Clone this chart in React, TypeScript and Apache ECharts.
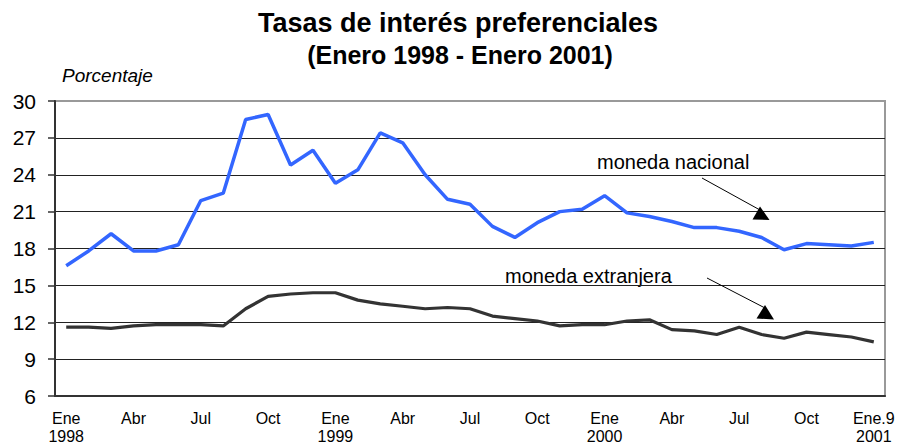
import React, { useEffect, useRef } from "react";
import * as echarts from "echarts";

const tickLabels: string[] = [
  "Ene\n1998", "Feb", "Mar", "Abr", "May", "Jun", "Jul", "Ago", "Sep", "Oct", "Nov", "Dic",
  "Ene\n1999", "Feb", "Mar", "Abr", "May", "Jun", "Jul", "Ago", "Sep", "Oct", "Nov", "Dic",
  "Ene\n2000", "Feb", "Mar", "Abr", "May", "Jun", "Jul", "Ago", "Sep", "Oct", "Nov", "Dic",
  "Ene.9\n2001",
];

const monedaNacional: number[] = [
  16.6, 17.8, 19.2, 17.8, 17.8, 18.3, 21.9, 22.5, 28.5, 28.9, 24.8, 26.0,
  23.3, 24.4, 27.4, 26.6, 24.0, 22.0, 21.6, 19.8, 18.9, 20.1, 21.0, 21.2,
  22.3, 20.9, 20.6, 20.2, 19.7, 19.7, 19.4, 18.9, 17.9, 18.4, 18.3, 18.2,
  18.5,
];

const monedaExtranjera: number[] = [
  11.6, 11.6, 11.5, 11.7, 11.8, 11.8, 11.8, 11.7, 13.1, 14.1, 14.3, 14.4,
  14.4, 13.8, 13.5, 13.3, 13.1, 13.2, 13.1, 12.5, 12.3, 12.1, 11.7, 11.8,
  11.8, 12.1, 12.2, 11.4, 11.3, 11.0, 11.6, 11.0, 10.7, 11.2, 11.0, 10.8,
  10.4,
];

const FONT = "'Liberation Sans', Arial, Helvetica, sans-serif";

export default function App() {
  const ref = useRef<HTMLDivElement>(null);
  useEffect(() => {
    if (!ref.current) return;
    const chart = echarts.init(ref.current, undefined, { renderer: "svg" });
    chart.setOption({
      animation: false,
      backgroundColor: "#ffffff",
      grid: {
        left: 55,
        right: 14,
        top: 101,
        bottom: 50,
        show: true,
        borderColor: "#999999",
        borderWidth: 2,
        containLabel: false,
        outerBoundsMode: "none",
      },
      xAxis: {
        type: "category",
        data: tickLabels,
        boundaryGap: true,
        axisLine: { show: true, lineStyle: { color: "#333333", width: 2 } },
        axisTick: { show: false },
        splitLine: { show: false },
        axisLabel: {
          interval: 2,
          margin: 13,
          color: "#000000",
          fontFamily: FONT,
          fontSize: 16,
          lineHeight: 18,
        },
      },
      yAxis: {
        type: "value",
        min: 6,
        max: 30,
        interval: 3,
        axisLine: { show: true, lineStyle: { color: "#333333", width: 2 } },
        axisTick: { show: true, length: 7, lineStyle: { color: "#333333", width: 1.5 } },
        axisLabel: {
          margin: 19,
          color: "#000000",
          fontFamily: FONT,
          fontSize: 21,
        },
        splitLine: {
          show: true,
          showMinLine: false,
          showMaxLine: false,
          lineStyle: { color: "#222222", width: 1 },
        },
      },
      series: [
        {
          name: "moneda nacional",
          type: "line",
          data: monedaNacional,
          symbol: "none",
          lineStyle: { color: "#3366ff", width: 3.5 },
          z: 3,
        },
        {
          name: "moneda extranjera",
          type: "line",
          data: monedaExtranjera,
          symbol: "none",
          lineStyle: { color: "#333333", width: 3.2 },
          z: 3,
        },
      ],
      graphic: [
        {
          type: "text",
          x: 458,
          y: 23,
          style: {
            text: "Tasas de interés preferenciales",
            font: `bold 27px ${FONT}`,
            fill: "#000000",
            align: "center",
            verticalAlign: "middle",
          },
        },
        {
          type: "text",
          x: 460,
          y: 55,
          style: {
            text: "(Enero 1998 - Enero 2001)",
            font: `bold 25px ${FONT}`,
            fill: "#000000",
            align: "center",
            verticalAlign: "middle",
          },
        },
        {
          type: "text",
          x: 62,
          y: 75,
          style: {
            text: "Porcentaje",
            font: `italic 19px ${FONT}`,
            fill: "#000000",
            align: "left",
            verticalAlign: "middle",
          },
        },
        {
          type: "text",
          x: 597,
          y: 162,
          style: {
            text: "moneda nacional",
            font: `20px ${FONT}`,
            fill: "#000000",
            align: "left",
            verticalAlign: "middle",
          },
        },
        {
          type: "text",
          x: 505,
          y: 276,
          style: {
            text: "moneda extranjera",
            font: `20px ${FONT}`,
            fill: "#000000",
            align: "left",
            verticalAlign: "middle",
          },
        },
        {
          type: "line",
          shape: { x1: 702, y1: 178, x2: 760, y2: 210 },
          style: { stroke: "#000000", lineWidth: 1 },
          z: 10,
        },
        {
          type: "polygon",
          shape: { points: [[760, 206.5], [752.5, 219.5], [769.5, 220]] },
          style: { fill: "#000000" },
          z: 10,
        },
        {
          type: "line",
          shape: { x1: 707, y1: 278, x2: 765, y2: 308 },
          style: { stroke: "#000000", lineWidth: 1 },
          z: 10,
        },
        {
          type: "polygon",
          shape: { points: [[765, 305], [756.5, 318.5], [774, 319.5]] },
          style: { fill: "#000000" },
          z: 10,
        },
      ],
    });
    return () => chart.dispose();
  }, []);
  return <div ref={ref} style={{ width: 899, height: 446, position: "absolute", left: 0, top: 0 }} />;
}
